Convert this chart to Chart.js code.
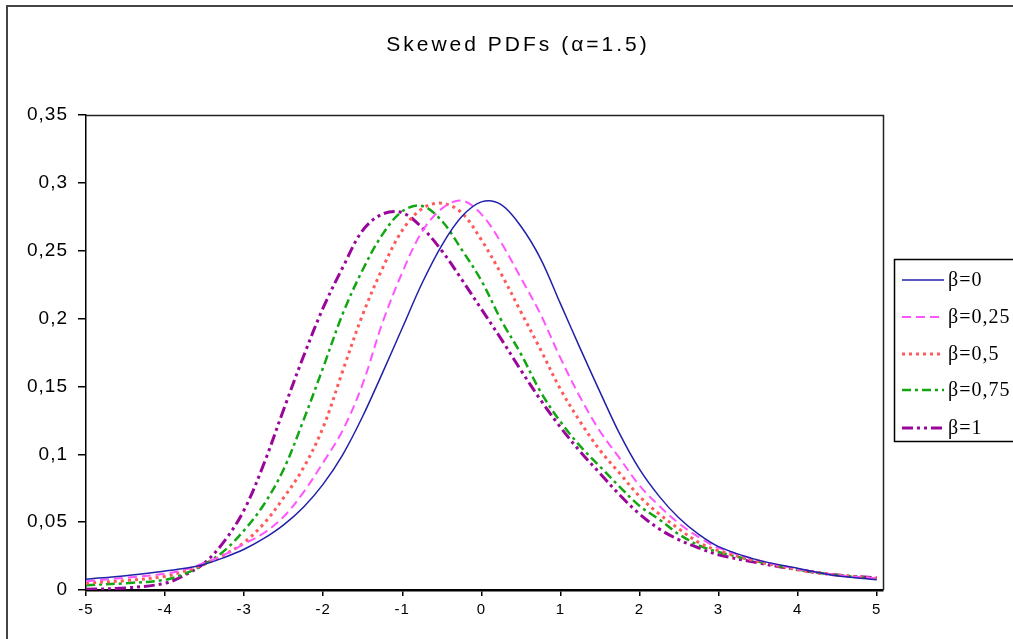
<!DOCTYPE html>
<html>
<head>
<meta charset="utf-8">
<script src="https://cdn.jsdelivr.net/npm/chart.js@4"></script>
<style>
  html, body { margin: 0; padding: 0; background: #fff; }
  canvas { display: block; }
</style>
</head>
<body>
<canvas id="c" width="1013" height="639"></canvas>
<script>
// ---- data ----
const chartTitle = 'Skewed PDFs (\u03B1=1.5)';
const xValues = [-5,-4.5,-4,-3.75,-3.5,-3.25,-3,-2.75,-2.5,-2.25,-2,-1.75,-1.5,-1.25,-1,-0.75,-0.5,-0.25,0,0.25,0.5,0.75,1,1.25,1.5,1.75,2,2.25,2.5,2.75,3,3.5,4,4.5,5];
const seriesLabels = ['\u03B2=0', '\u03B2=0,25', '\u03B2=0,5', '\u03B2=0,75', '\u03B2=1'];
const beta0    = [0.008,0.0105,0.014,0.016,0.019,0.024,0.030,0.038,0.048,0.061,0.078,0.100,0.128,0.160,0.193,0.226,0.254,0.275,0.286,0.284,0.268,0.244,0.211,0.178,0.146,0.115,0.089,0.069,0.053,0.041,0.032,0.022,0.016,0.0105,0.0075];
const beta025  = [0.0065,0.009,0.012,0.015,0.020,0.026,0.034,0.042,0.054,0.072,0.094,0.118,0.152,0.197,0.234,0.264,0.281,0.287,0.277,0.256,0.230,0.203,0.171,0.142,0.117,0.097,0.077,0.062,0.049,0.039,0.031,0.022,0.0155,0.011,0.0085];
const beta05   = [0.005,0.007,0.010,0.014,0.019,0.026,0.035,0.049,0.068,0.090,0.120,0.162,0.203,0.237,0.265,0.281,0.285,0.278,0.258,0.233,0.205,0.177,0.148,0.124,0.103,0.086,0.069,0.056,0.045,0.035,0.029,0.021,0.015,0.011,0.0085];
const beta075  = [0.0035,0.005,0.0075,0.012,0.019,0.029,0.044,0.063,0.089,0.125,0.164,0.204,0.236,0.262,0.279,0.283,0.272,0.251,0.228,0.199,0.174,0.146,0.124,0.106,0.091,0.076,0.062,0.052,0.041,0.033,0.028,0.021,0.015,0.011,0.0085];
const beta1    = [0.0005,0.0015,0.005,0.011,0.020,0.036,0.059,0.093,0.133,0.172,0.208,0.238,0.265,0.277,0.278,0.267,0.250,0.229,0.207,0.185,0.162,0.140,0.120,0.102,0.086,0.070,0.056,0.045,0.037,0.031,0.026,0.020,0.015,0.011,0.009];
const yTickLabels = ['0','0,05','0,1','0,15','0,2','0,25','0,3','0,35'];
const xTickLabels = ['-5','-4','-3','-2','-1','0','1','2','3','4','5'];

// ---- styles ----
const styles = [
  { color: '#2020a8', width: 1.5, dash: [] },
  { color: '#ff55ff', width: 2,   dash: [9, 5] },
  { color: '#ff5a5a', width: 3,   dash: [3, 4] },
  { color: '#12a612', width: 2.5, dash: [9, 4, 3, 4] },
  { color: '#9a069a', width: 3,   dash: [11, 4, 3, 4, 3, 4] }
];
const seriesValues = [beta0, beta025, beta05, beta075, beta1];

function pts(ys) { return xValues.map((x, i) => ({ x: x, y: ys[i] })); }

const datasets = seriesValues.map((vals, i) => ({
  label: seriesLabels[i],
  data: pts(vals),
  borderColor: styles[i].color,
  borderWidth: styles[i].width,
  borderDash: styles[i].dash,
  pointRadius: 0,
  fill: false,
  tension: 0.35
}));

const decorPlugin = {
  id: 'decor',
  beforeDraw(chart) {
    const ctx = chart.ctx;
    ctx.save();
    ctx.fillStyle = '#fff';
    ctx.fillRect(0, 0, chart.width, chart.height);
    ctx.strokeStyle = '#444';
    ctx.lineWidth = 2;
    ctx.strokeRect(7, 6, 2000, 2000);
    // title
    ctx.fillStyle = '#000';
    ctx.font = '21px "Liberation Sans", Arial, sans-serif';
    ctx.textAlign = 'center';
    ctx.textBaseline = 'middle';
    try { ctx.letterSpacing = '3px'; } catch (e) {}
    ctx.fillText(chartTitle, 518, 45);
    ctx.restore();
    try { ctx.letterSpacing = '1px'; } catch (e) {}
  },
  afterDraw(chart) {
    const ctx = chart.ctx;
    const a = chart.chartArea;
    ctx.save();
    try { ctx.letterSpacing = '0px'; } catch (e) {}
    ctx.strokeStyle = '#222';
    ctx.lineWidth = 1.5;
    ctx.beginPath();
    ctx.moveTo(a.left, a.top + 0.5);
    ctx.lineTo(a.right + 0.5, a.top + 0.5);
    ctx.lineTo(a.right + 0.5, a.bottom);
    ctx.stroke();
    // legend
    const lx = 894, ly = 259, lh = 182;
    ctx.lineWidth = 1.5;
    ctx.strokeStyle = '#000';
    ctx.strokeRect(lx + 0.5, ly + 0.5, 200, lh);
    const rows = [280, 317, 354, 390, 428];
    chart.data.datasets.forEach((ds, i) => {
      ctx.save();
      ctx.strokeStyle = ds.borderColor;
      ctx.lineWidth = ds.borderWidth;
      ctx.setLineDash(ds.borderDash);
      ctx.beginPath();
      ctx.moveTo(902, rows[i]);
      ctx.lineTo(944, rows[i]);
      ctx.stroke();
      ctx.restore();
      ctx.save();
      try { ctx.letterSpacing = '1px'; } catch (e) {}
      ctx.fillStyle = '#000';
      ctx.font = '20px "Liberation Serif", "Times New Roman", serif';
      ctx.textAlign = 'left';
      ctx.textBaseline = 'middle';
      ctx.fillText(ds.label, 948, rows[i] + 1);
      ctx.restore();
    });
    ctx.restore();
  }
};

new Chart(document.getElementById('c'), {
  type: 'line',
  data: { datasets: datasets },
  options: {
    responsive: false,
    animation: false,
    layout: { padding: { top: 115, right: 130, left: 0, bottom: 0 } },
    plugins: {
      legend: { display: false },
      title: { display: false },
      tooltip: { enabled: false }
    },
    scales: {
      x: {
        type: 'linear',
        min: -5,
        max: 5.08,
        afterFit(scale) { scale.height = 49; },
        ticks: {
          stepSize: 1,
          includeBounds: false,
          autoSkip: false,
          maxRotation: 0,
          padding: 5,
          color: '#000',
          font: { family: '"Liberation Sans", Arial, sans-serif', size: 15 },
          callback: (v) => xTickLabels[Math.round(v) + 5]
        },
        grid: { drawOnChartArea: false, drawTicks: true, tickLength: 6, color: '#000', lineWidth: 1.5 },
        border: { display: true, color: '#000', width: 2.5 }
      },
      y: {
        type: 'linear',
        min: 0,
        max: 0.35,
        afterFit(scale) { scale.width = 86; },
        ticks: {
          stepSize: 0.05,
          autoSkip: false,
          padding: 10,
          color: '#000',
          font: { family: '"Liberation Sans", Arial, sans-serif', size: 19 },
          callback: (v) => yTickLabels[Math.round(v / 0.05)]
        },
        grid: { drawOnChartArea: false, drawTicks: true, tickLength: 8, color: '#000', lineWidth: 1.5 },
        border: { display: true, color: '#000', width: 1.5 }
      }
    }
  },
  plugins: [decorPlugin]
});
</script>
</body>
</html>
